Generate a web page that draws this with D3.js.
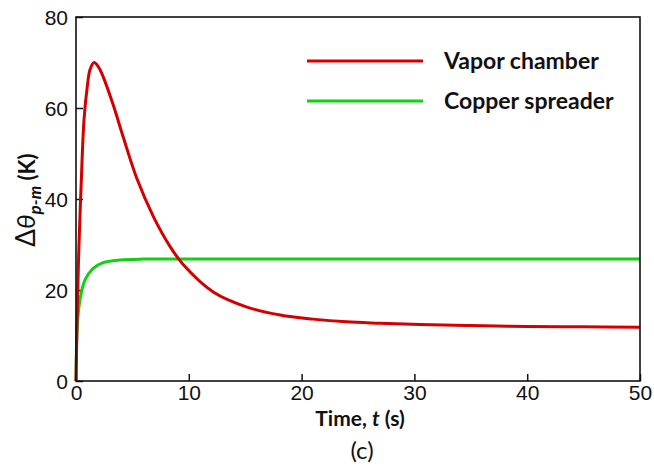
<!DOCTYPE html>
<html lang="en">
<head>
<meta charset="UTF-8">
<title>Delta theta p-m vs time</title>
<script src="https://d3js.org/d3.v7.min.js"></script>
<style>
  body { margin: 0; background: #fff; }
  svg { display: block; font-family: Lato, 'Open Sans', sans-serif; }
  .tick text { font-size: 21px; fill: #111; }
  .tick line { stroke: #111; stroke-width: 1.5; }
</style>
</head>
<body>
<div id="chart"></div>
<script>
  // data
  const vaporTime  = [0, 0.1, 0.24, 0.45, 0.71, 1.0, 1.24, 1.6, 2.0, 2.42, 3.31, 4.2, 5.38, 6.85, 8.33, 9.5, 12.2, 15.1, 18.1, 21, 24, 27, 30.5, 35, 40, 45, 50];
  const vaporValue = [0, 13.4, 28, 42.7, 57.4, 64.7, 68.4, 70, 69.0, 66.8, 60.6, 53.5, 44.6, 36.2, 29.6, 25.6, 19.5, 16.3, 14.5, 13.6, 13.0, 12.7, 12.4, 12.2, 12.0, 11.9, 11.8];
  const copperTime  = [0, 0.06, 0.15, 0.35, 0.8, 1.5, 2.4, 3.9, 6, 10, 20, 30, 40, 50];
  const copperValue = [0, 9, 13.5, 17.8, 22.2, 24.7, 26, 26.6, 26.8, 26.8, 26.8, 26.8, 26.8, 26.8];
  const seriesNames = ["Vapor chamber", "Copper spreader"];
  const seriesColors = ["#d40000", "#10d010"];
  const xTicks = [0, 10, 20, 30, 40, 50];
  const yTicks = [0, 20, 40, 60, 80];

  const width = 654, height = 473;
  const margin = { top: 17, right: 14, bottom: 92, left: 76 };
  const innerW = width - margin.left - margin.right;
  const innerH = height - margin.top - margin.bottom;

  const svg = d3.select("#chart").append("svg")
      .attr("width", width)
      .attr("height", height);

  const g = svg.append("g")
      .attr("transform", `translate(${margin.left},${margin.top})`);

  const x = d3.scaleLinear().domain([0, 50]).range([0, innerW]);
  const y = d3.scaleLinear().domain([0, 80]).range([innerH, 0]);

  // axes with inward ticks
  const xAxis = g.append("g")
      .attr("transform", `translate(0,${innerH})`)
      .call(d3.axisBottom(x).tickValues(xTicks).tickSizeInner(-7).tickSizeOuter(0).tickPadding(4));
  xAxis.select(".domain").remove();

  const yAxis = g.append("g")
      .call(d3.axisLeft(y).tickValues(yTicks).tickSizeInner(-7).tickSizeOuter(0).tickPadding(8));
  yAxis.select(".domain").remove();
  yAxis.selectAll(".tick text").attr("dy", "0.36em");

  const series = [
    { name: seriesNames[0], color: seriesColors[0], pts: vaporTime.map((t, i) => [t, vaporValue[i]]) },
    { name: seriesNames[1], color: seriesColors[1], pts: copperTime.map((t, i) => [t, copperValue[i]]) }
  ];

  const line = d3.line()
      .x(d => x(d[0]))
      .y(d => y(d[1]))
      .curve(d3.curveCatmullRom.alpha(0.5));

  // draw copper first so vapor sits on top near the origin
  g.selectAll("path.series")
      .data(series.slice().reverse())
      .enter().append("path")
      .attr("class", "series")
      .attr("d", d => line(d.pts))
      .attr("fill", "none")
      .attr("stroke", d => d.color)
      .attr("stroke-width", 3);

  // frame
  g.append("rect")
      .attr("width", innerW)
      .attr("height", innerH)
      .attr("fill", "none")
      .attr("stroke", "#111")
      .attr("stroke-width", 1.6);

  // legend
  const legend = svg.append("g");
  series.forEach((s, i) => {
    const ly = 61 + i * 40;
    legend.append("line")
        .attr("x1", 307).attr("x2", 423)
        .attr("y1", ly).attr("y2", ly)
        .attr("stroke", s.color)
        .attr("stroke-width", 3);
    legend.append("text")
        .attr("x", 444)
        .attr("y", ly)
        .attr("dy", "0.35em")
        .style("font-size", "23px")
        .style("font-weight", "bold")
        .style("fill", "#111")
        .text(s.name);
  });

  // x title
  const xt = svg.append("text")
      .attr("x", 360)
      .attr("y", 426)
      .attr("text-anchor", "middle")
      .style("font-size", "21px")
      .style("font-weight", "bold")
      .style("fill", "#111");
  xt.append("tspan").text("Time, ");
  xt.append("tspan").style("font-style", "italic").text("t");
  xt.append("tspan").text(" (s)");

  // panel label
  svg.append("text")
      .attr("x", 362)
      .attr("y", 459)
      .attr("text-anchor", "middle")
      .style("font-size", "24px")
      .style("fill", "#111")
      .text("(c)");

  // y title
  const yt = svg.append("text")
      .attr("transform", "translate(35,200) rotate(-90)")
      .attr("text-anchor", "middle")
      .style("font-size", "26px")
      .style("fill", "#111");
  yt.append("tspan").text("\u0394");
  yt.append("tspan").style("font-style", "italic").text("\u03b8");
  yt.append("tspan").attr("dy", 6).style("font-size", "17px").style("font-style", "italic").style("font-weight", "bold").text("p-m");
  yt.append("tspan").attr("dy", -6).style("font-size", "22px").style("font-weight", "bold").text(" (K)");
</script>
</body>
</html>
